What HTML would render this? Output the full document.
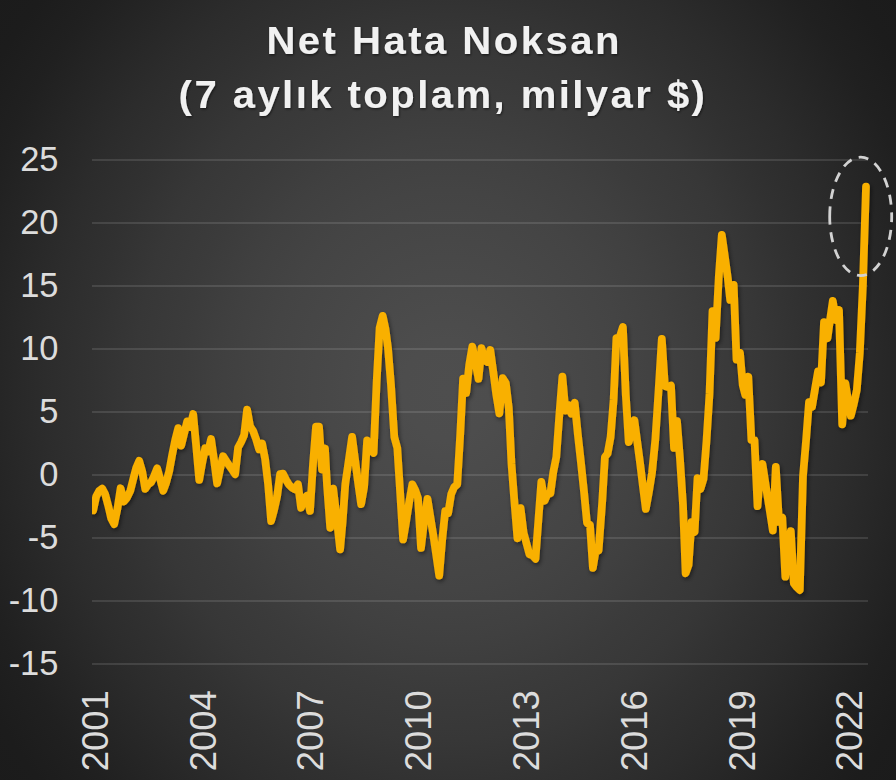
<!DOCTYPE html>
<html><head><meta charset="utf-8"><title>Net Hata Noksan</title>
<style>
html,body{margin:0;padding:0;background:#1e1e1e;}
body{width:896px;height:780px;overflow:hidden;}
svg{display:block;font-family:"Liberation Sans",sans-serif;}
.title{font-weight:bold;font-size:38.4px;fill:#f1f1f1;letter-spacing:3.4px;}
.yl text{font-size:34.5px;fill:#dcdcdc;}
.xl text{font-size:36.4px;fill:#dcdcdc;}
.grid line{stroke:#ffffff;stroke-opacity:0.115;stroke-width:1.8;}
</style></head><body>
<svg width="896" height="780" viewBox="0 0 896 780">
<defs>
<radialGradient id="bg" cx="448" cy="390" r="582.4" gradientUnits="userSpaceOnUse" gradientTransform="translate(448 390) scale(1 1.1161) translate(-448 -390)">
<stop offset="0.0000" stop-color="rgb(78,78,78)"/>
<stop offset="0.0769" stop-color="rgb(77,77,77)"/>
<stop offset="0.1538" stop-color="rgb(74,74,74)"/>
<stop offset="0.2308" stop-color="rgb(71,71,71)"/>
<stop offset="0.3077" stop-color="rgb(68,68,68)"/>
<stop offset="0.3846" stop-color="rgb(64,64,64)"/>
<stop offset="0.4615" stop-color="rgb(59,59,59)"/>
<stop offset="0.5385" stop-color="rgb(55,55,55)"/>
<stop offset="0.6154" stop-color="rgb(49,49,49)"/>
<stop offset="0.6923" stop-color="rgb(44,44,44)"/>
<stop offset="0.7692" stop-color="rgb(38,38,38)"/>
<stop offset="0.8462" stop-color="rgb(32,32,32)"/>
<stop offset="0.9231" stop-color="rgb(28,28,28)"/>
<stop offset="1.0000" stop-color="rgb(27,27,27)"/>
</radialGradient>
<clipPath id="plot"><rect x="92" y="100" width="790" height="600"/></clipPath>
<filter id="sh" x="-5%" y="-5%" width="110%" height="110%"><feDropShadow dx="1.3" dy="2.1" stdDeviation="1.9" flood-color="#000" flood-opacity="0.5"/></filter>
<filter id="tsh" x="-5%" y="-20%" width="110%" height="150%"><feDropShadow dx="0.8" dy="1.3" stdDeviation="1.1" flood-color="#000" flood-opacity="0.55"/></filter>
</defs>
<rect width="896" height="780" fill="url(#bg)"/>
<text class="title" transform="translate(444.2 53.75) scale(1.045 1)" x="0" y="0" text-anchor="middle" filter="url(#tsh)" style="letter-spacing:2.34px">Net Hata Noksan</text>
<text class="title" transform="translate(443.0 108.4) scale(1.045 1)" x="0" y="0" text-anchor="middle" filter="url(#tsh)" style="letter-spacing:2.31px">(7 aylık toplam, milyar $)</text>
<g class="grid">
<line x1="92" x2="868" y1="160" y2="160"/>
<line x1="92" x2="868" y1="223" y2="223"/>
<line x1="92" x2="868" y1="286" y2="286"/>
<line x1="92" x2="868" y1="349" y2="349"/>
<line x1="92" x2="868" y1="412" y2="412"/>
<line x1="92" x2="868" y1="475" y2="475"/>
<line x1="92" x2="868" y1="538" y2="538"/>
<line x1="92" x2="868" y1="601" y2="601"/>
<line x1="92" x2="868" y1="664" y2="664"/>
</g>
<g class="yl">
<text x="58.5" y="170.5" text-anchor="end">25</text>
<text x="58.5" y="233.5" text-anchor="end">20</text>
<text x="58.5" y="296.5" text-anchor="end">15</text>
<text x="58.5" y="359.5" text-anchor="end">10</text>
<text x="58.5" y="422.5" text-anchor="end">5</text>
<text x="58.5" y="485.5" text-anchor="end">0</text>
<text x="58.5" y="548.5" text-anchor="end">-5</text>
<text x="58.5" y="611.5" text-anchor="end">-10</text>
<text x="58.5" y="674.5" text-anchor="end">-15</text>
</g>
<g class="xl">
<text transform="translate(107.8,771.3) rotate(-90)">2001</text>
<text transform="translate(215.6,771.3) rotate(-90)">2004</text>
<text transform="translate(323.4,771.3) rotate(-90)">2007</text>
<text transform="translate(431.1,771.3) rotate(-90)">2010</text>
<text transform="translate(538.9,771.3) rotate(-90)">2013</text>
<text transform="translate(646.7,771.3) rotate(-90)">2016</text>
<text transform="translate(754.5,771.3) rotate(-90)">2019</text>
<text transform="translate(862.3,771.3) rotate(-90)">2022</text>
</g>
<g clip-path="url(#plot)"><polyline filter="url(#sh)" points="93.2,510.4 96.2,496.4 99.2,490.8 102.2,488.5 105.2,494.3 108.2,505.7 111.2,518.5 114.2,524.1 117.4,509.0 120.6,488.2 123.8,501.5 127.0,497.7 130.3,490.8 133.2,479.2 136.2,467.7 139.2,460.8 142.2,471.2 145.2,488.9 148.2,484.4 151.2,482.1 154.2,475.8 157.2,468.3 160.2,479.2 163.2,490.8 166.2,482.6 169.2,471.2 172.2,454.8 175.2,440.0 178.2,428.1 181.2,445.6 184.2,433.4 187.2,421.3 190.2,427.1 193.2,414.0 196.2,446.3 199.2,480.0 202.2,463.0 205.2,448.2 208.1,451.4 211.1,439.0 214.1,460.4 217.1,483.4 220.1,469.3 223.1,456.2 226.1,460.8 229.1,465.3 232.1,469.7 235.1,474.2 238.1,447.5 241.1,442.0 244.1,435.1 247.1,409.5 250.1,426.5 253.1,430.9 256.1,439.2 259.1,449.4 262.1,443.5 265.1,459.0 268.1,484.4 271.1,521.1 274.1,509.9 277.1,496.4 280.1,474.0 283.0,473.6 286.0,479.8 289.0,484.8 292.0,487.6 295.0,489.4 298.0,484.2 301.0,507.8 304.0,498.9 307.0,495.8 310.0,510.9 313.0,464.3 316.0,426.5 319.0,426.5 322.0,469.6 325.0,448.5 327.0,485.0 330.2,527.8 333.2,488.6 336.5,516.0 340.1,549.3 342.6,522.0 345.3,484.0 349.0,458.5 352.1,436.8 355.0,459.0 358.0,482.0 361.1,504.2 364.1,487.0 367.1,440.4 370.1,449.0 373.6,452.9 376.6,383.0 379.6,328.0 382.7,315.8 385.5,329.0 388.0,348.0 391.0,385.0 394.3,437.0 397.3,448.0 400.3,495.0 403.1,539.5 406.2,521.0 409.2,502.0 412.3,484.3 415.2,490.0 418.0,498.0 421.0,548.0 424.3,520.0 427.5,498.9 430.4,517.0 433.3,535.0 436.2,555.0 439.2,575.7 442.2,540.0 445.2,511.0 448.2,513.0 451.2,494.0 454.2,487.0 457.2,484.6 460.2,435.0 463.1,378.5 466.2,393.0 469.2,365.0 472.3,346.6 475.4,362.0 478.5,378.8 481.5,348.2 484.3,360.0 487.3,362.0 490.3,350.0 493.3,372.0 496.3,395.0 499.3,413.4 502.8,378.2 505.8,383.0 508.8,408.0 511.5,464.0 514.5,503.0 517.4,538.3 520.6,508.1 523.6,532.8 526.6,543.7 529.4,554.4 532.4,555.3 535.5,558.8 538.4,520.0 541.3,481.8 544.6,500.8 547.5,494.0 550.4,493.5 553.3,472.0 556.3,457.0 559.4,414.0 562.4,376.6 565.4,410.6 568.4,405.0 571.4,413.7 574.7,402.7 577.8,434.0 580.9,462.0 584.0,491.5 587.0,523.0 590.0,525.0 592.9,568.0 595.5,552.0 598.6,550.5 602.2,502.0 604.9,457.0 607.6,453.5 610.6,437.0 613.6,400.0 616.4,338.0 619.6,337.5 622.9,327.0 625.8,395.0 628.7,442.1 631.6,432.0 634.4,420.2 637.3,442.0 640.2,464.0 643.0,487.0 645.8,509.0 648.9,492.0 652.0,473.0 655.3,440.0 658.6,390.0 661.8,338.8 664.9,386.0 668.0,387.0 671.0,385.6 674.0,448.0 677.0,421.0 680.0,459.0 683.0,505.0 685.6,573.3 688.6,565.0 691.5,522.0 694.6,532.0 697.5,478.0 700.5,489.0 703.5,479.0 706.5,441.0 709.5,394.0 712.5,311.0 715.6,338.0 718.8,276.4 721.8,234.8 724.8,256.0 727.8,278.0 730.2,300.0 733.7,284.8 736.5,359.7 740.0,352.7 742.7,385.0 745.2,394.7 748.3,376.7 751.4,440.0 754.5,440.3 757.5,506.2 760.0,475.0 762.5,464.0 766.0,487.0 769.5,509.0 772.8,530.5 775.8,466.9 779.0,522.0 782.3,517.6 785.3,576.7 788.0,553.0 790.8,531.0 793.8,583.3 796.7,587.0 799.8,590.1 803.0,476.0 806.0,441.0 809.0,402.0 812.0,407.0 815.0,389.0 818.0,371.3 821.0,382.5 824.0,322.0 827.5,338.3 830.0,320.0 832.8,300.8 835.8,320.0 839.0,310.0 842.2,424.4 845.4,383.4 848.0,400.0 850.8,415.7 853.8,404.0 856.8,390.0 859.8,353.0 862.9,285.0 866.0,186.5" fill="none" stroke="#f9b000" stroke-width="7.7" stroke-linejoin="round" stroke-linecap="round"/></g>
<path d="M829.7 216.4 A31 59.2 0 0 1 891.7 216.4 A31 59.2 0 0 1 829.7 216.4" fill="none" stroke="#d2d2d2" stroke-width="2.8" stroke-dasharray="10 7.6"/>
</svg>
</body></html>
